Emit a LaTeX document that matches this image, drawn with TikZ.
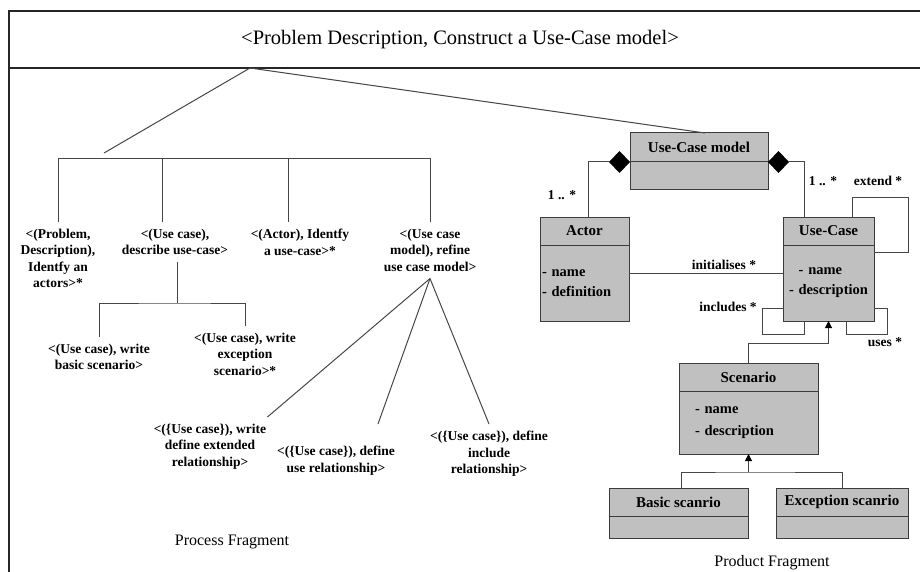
\documentclass[tikz,border=0pt]{standalone}
\usepackage{fontspec}
\setmainfont{Liberation Serif}
\usetikzlibrary{positioning, arrows.meta, shapes.geometric}

\definecolor{clsfill}{RGB}{192,192,192}
\definecolor{clsline}{RGB}{60,60,60}
\definecolor{treeline}{RGB}{70,70,70}

\begin{document}
\begin{tikzpicture}[
  x=1pt, y=-1pt,
  frame/.style={line width=1.6pt, black!85},
  link/.style={draw=treeline, line width=1pt},
  tree/.style={anchor=north, align=center, inner sep=1pt, outer ysep=6pt, font=\fontsize{13.5}{16.5}\selectfont\bfseries},
  clshead/.style={rectangle, draw=clsline, fill=clsfill, line width=1pt, inner sep=0pt, outer sep=0pt, anchor=north west, font=\fontsize{15}{17}\selectfont\bfseries},
  clsbody/.style={rectangle, draw=clsline, fill=clsfill, line width=1pt, outer sep=0pt, inner ysep=0pt, align=left, font=\fontsize{14.5}{20}\selectfont\bfseries},
  comp/.style={diamond, fill=black, inner sep=0pt, outer sep=0pt, minimum width=21pt, minimum height=22pt},
  gen/.style={link, -{Triangle[length=7pt, width=7pt, fill=black, color=black]}},
  mult/.style={inner sep=0pt, font=\fontsize{13.5}{16}\selectfont\bfseries},
  part/.style={font=\fontsize{16}{19}\selectfont}
]
\useasboundingbox (0,0) rectangle (920,572);

% frame and title
\draw[frame] (920,11) -- (9,11) -- (9,572);
\draw[frame] (9,68) -- (920,68);
\node[font=\fontsize{20.5}{24}\selectfont] (title) at (460,40) {<Problem Description, Construct a Use-Case model>};
\coordinate (apex) at (250,68);
\coordinate (pjoin) at (104,153);
\coordinate (bar) at (0,159);

% process fragment
\node[tree] (pd) at (58,222) {<(Problem,\\Description),\\Identfy an\\actors>*};
\node[tree] (du) at (175,222) {<(Use case),\\describe use-case>};
\node[tree] (ac) at (300,222) {<(Actor), Identfy\\a use-case>*};
\node[tree] (rf) at (430,222) {<(Use case\\model), refine\\use case model>};

\node[tree] (bs) at (99,337) {<(Use case), write\\basic scenario>};
\node[tree] (es) at (245,326) {<(Use case), write\\exception\\scenario>*};

\node[tree] (ex) at (210,417) {<(\{Use case\}), write\\define extended\\relationship>};
\node[tree] (ur) at (336,439) {<(\{Use case\}), define\\use relationship>};
\node[tree] (ir) at (489,424) {<(\{Use case\}), define\\include\\relationship>};

\draw[link] (apex) -- (pjoin);
\draw[link] (pd.north) |- (rf.north |- bar) -- (rf.north);
\draw[link] ([xshift=-13pt]du.north) -- ([xshift=-13pt]du.north |- bar);
\draw[link] ([xshift=-12pt]ac.north) -- ([xshift=-12pt]ac.north |- bar);

\coordinate (dujoin) at ([xshift=2pt]du.south |- 0,303);
\draw[link] ([xshift=2pt]du.south) -- (dujoin);
\draw[link] (bs.north) |- (dujoin) -| (es.north);

\coordinate (urend) at (378,424);
\draw[link] (rf.south) -- (ex.north east);
\draw[link] (rf.south) -- (urend);
\draw[link] (rf.south) -- (ir.north);

\node[part] (procf) at (232,542) {Process Fragment};

% product fragment
\node[clshead, minimum width=138pt, minimum height=29pt] (ucm) at (630,133) {Use-Case model};
\node[clsbody, minimum width=138pt, minimum height=27pt, below=0pt of ucm] (ucmb) {};

\node[clshead, minimum width=89pt, minimum height=28pt] (actor) at (540,217) {Actor};
\node[clsbody, minimum width=89pt, minimum height=76pt, text width=85pt, inner xsep=2pt, below=0pt of actor] (actorb) {- name\\- definition};

\node[clshead, minimum width=91pt, minimum height=28pt] (uc) at (783,217) {Use-Case};
\node[clsbody, minimum width=91pt, minimum height=76pt, text width=79pt, inner xsep=6pt, below=0pt of uc] (ucb) {\ \ - name\\- description};

\node[clshead, minimum width=139pt, minimum height=28pt] (scen) at (679,363) {Scenario};
\node[clsbody, minimum width=139pt, minimum height=63pt, text width=107pt, inner xsep=16pt, below=0pt of scen, font=\fontsize{14.5}{22}\selectfont\bfseries] (scenb) {- name\\- description};

\node[clshead, minimum width=139pt, minimum height=28pt] (basic) at (609,488) {Basic scanrio};
\node[clsbody, minimum width=139pt, minimum height=22pt, below=0pt of basic] (basicb) {};

\node[clshead, minimum width=132pt, minimum height=28pt] (exc) at (776,488) {Exception scanrio};
\node[clsbody, minimum width=132pt, minimum height=22pt, below=0pt of exc] (excb) {};

\draw[link] (apex) -- ([xshift=6pt]ucm.north);

% composition
\node[comp, anchor=east] (dmL) at (ucmb.north west) {};
\node[comp, anchor=west] (dmR) at (ucmb.north east) {};
\draw[link] (dmL.west) -| ([xshift=4pt]actor.north);
\draw[link] (dmR.east) -| ([xshift=21pt]uc.north west);
\node[mult] (mL) at (562,195) {1 .. *};
\node[mult] (mR) at (823,181) {1 .. *};

% associations
\draw[link] ([yshift=10pt]actorb.east) -- ([yshift=10pt]ucb.west);
\node[mult] (init) at (724,265) {initialises *};
\draw[link] ([xshift=69pt]uc.north west) -- ++(0,-20) -| ++(56,55) -- ++(-34,0);
\node[mult] (extl) at (878,181) {extend *};
\draw[link] ([yshift=13pt]ucb.south west) -- ++(-21,0) |- ++(42,26) -- ++(0,-13);
\node[mult] (incl) at (728,307) {includes *};
\draw[link] ([xshift=63pt]ucb.south west) |- ++(41,13) |- ++(-13,-26);
\node[mult] (usel) at (885,342) {uses *};

% generalisation
\draw[gen] (scen.north) -- ++(0,-20) -| (ucb.south);
\coordinate (scjoin) at ([yshift=-18pt]scenb.south);
\draw[link] ([xshift=3pt]basic.north) |- (scjoin) -| (exc.north);
\draw[gen] (scjoin) -- (scenb.south);

\node[part] (prodf) at (772,563) {Product Fragment};

\end{tikzpicture}
\end{document}
